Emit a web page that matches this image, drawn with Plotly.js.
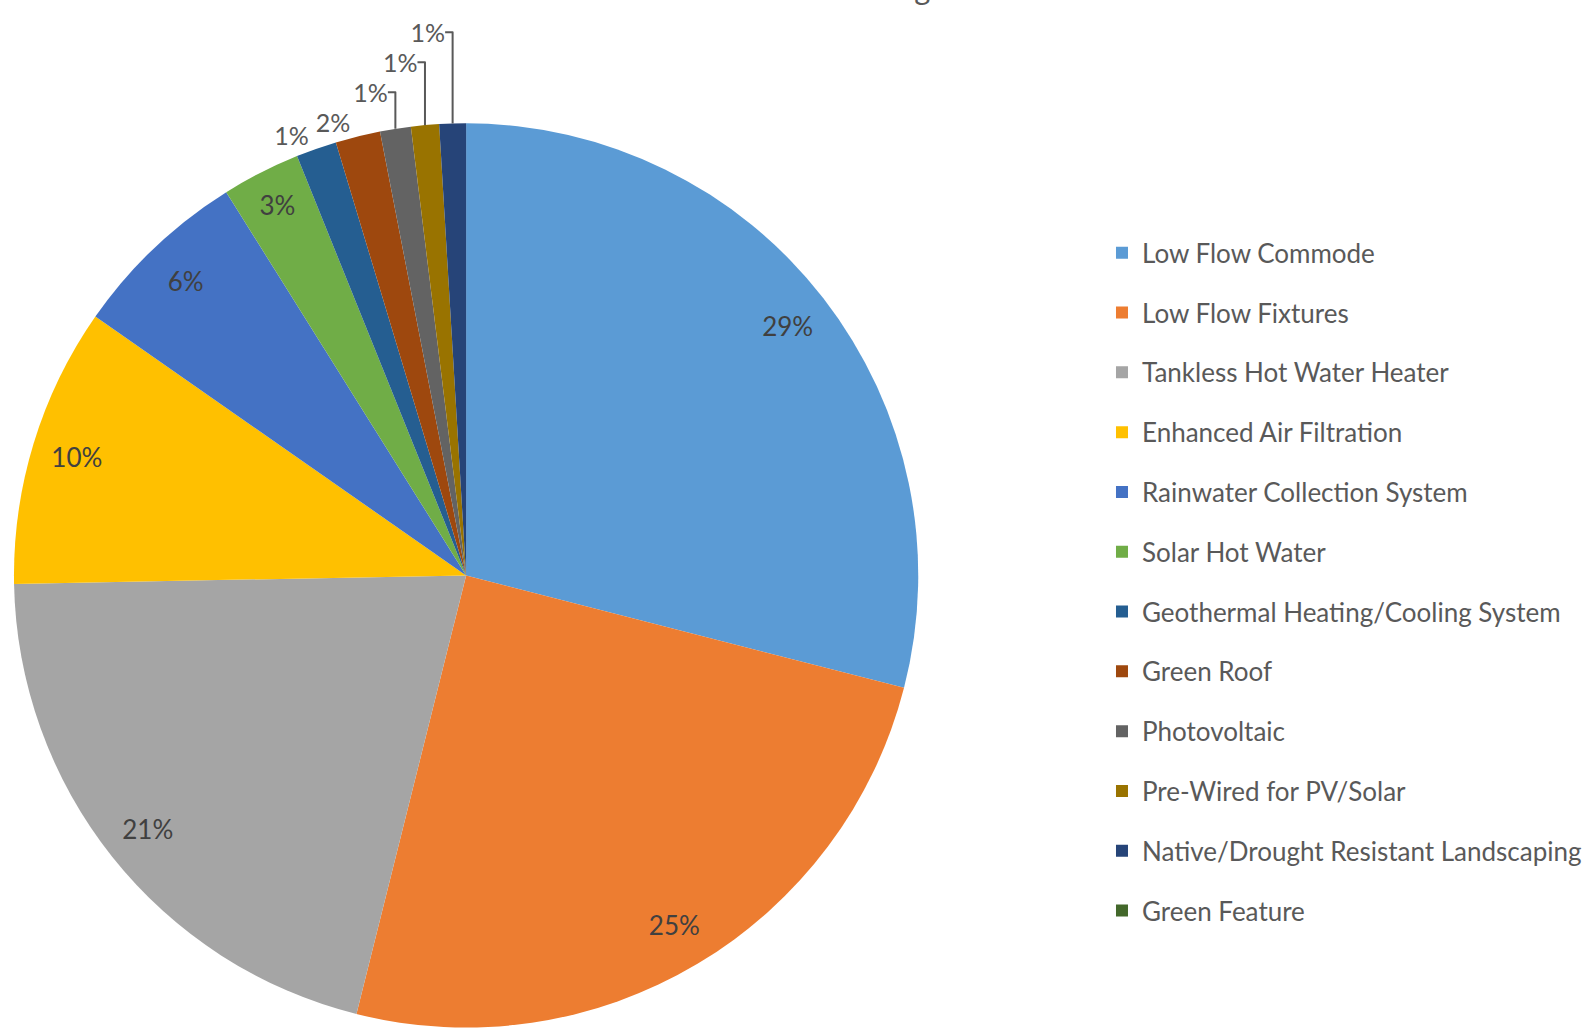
<!DOCTYPE html>
<html>
<head>
<meta charset="utf-8">
<script src="https://cdn.plot.ly/plotly-3.0.1.min.js"></script>
<style>
  html, body { margin: 0; padding: 0; background: #ffffff; }
  #chart { width: 1587px; height: 1033px; }
</style>
</head>
<body>
<div id="chart"></div>
<script>
// ---- data ----
const titleText = "Features Selected for Buildings";
const categories = [
  "Low Flow Commode",
  "Low Flow Fixtures",
  "Tankless Hot Water Heater",
  "Enhanced Air Filtration",
  "Rainwater Collection System",
  "Solar Hot Water",
  "Geothermal Heating/Cooling System",
  "Green Roof",
  "Photovoltaic",
  "Pre-Wired for PV/Solar",
  "Native/Drought Resistant Landscaping",
  "Green Feature"
];
const shares = [29.0, 24.9, 20.8, 10.0, 6.4, 2.8, 1.45, 1.6, 1.1, 1.0, 0.95, 0];
const sliceColors = [
  "#5B9BD5", "#ED7D31", "#A5A5A5", "#FFC000", "#4472C4", "#70AD47",
  "#255E91", "#9E480E", "#636363", "#997300", "#264478", "#43682B"
];
// where each slice's percentage sits, and which label layer carries it
const labelPlacement = ["inside", "inside", "inside", "inside", "inside", "inside",
  "outside", "outside", "outside", "outside", "outside", "none"];
const labelLayer = [1, 1, 1, 1, 1, 1, 1, 2, 2, 2, 2, 0];

// ---- chart ----
const insideColor = "#404040";
const outsideColor = "#595959";
const fontFamily = "Lato, 'Open Sans', sans-serif";
const pieDomain = { x: [0.00882, 0.5797], y: [0.00445, 0.8815] };

// coloured pie (no text)
const pie = {
  type: "pie",
  labels: categories,
  values: shares,
  sort: false,
  direction: "clockwise",
  rotation: 0,
  marker: { colors: sliceColors, line: { width: 0 } },
  textinfo: "none",
  domain: pieDomain,
  hoverinfo: "label+percent",
  showlegend: true
};

// same data as transparent rings that carry the percentage labels near the rim
function labelRing(layer) {
  return {
    type: "pie",
    labels: categories,
    values: shares,
    sort: false,
    direction: "clockwise",
    rotation: 0,
    hole: 0.8,
    marker: { colors: categories.map(() => "rgba(0,0,0,0)"), line: { width: 0 } },
    textposition: labelPlacement.map((p, i) => labelLayer[i] === layer ? p : "none"),
    texttemplate: shares.map((v, i) => (v > 0 && labelLayer[i] === layer) ? "%{percent:.0%}" : ""),
    insidetextorientation: "horizontal",
    insidetextfont: { family: fontFamily, size: 26, color: insideColor },
    outsidetextfont: { family: fontFamily, size: 25, color: outsideColor },
    domain: pieDomain,
    hoverinfo: "skip",
    showlegend: false
  };
}

// invisible helper entry so each slice is its own legend group (spacing via tracegroupgap)
const spacer = {
  type: "scatter",
  x: [0], y: [0],
  mode: "markers",
  marker: { color: "rgba(0,0,0,0)", size: 1 },
  name: " ",
  legendgroup: "spacer",
  showlegend: true,
  hoverinfo: "skip"
};

const layout = {
  width: 1587,
  height: 1033,
  margin: { l: 0, r: 0, t: 0, b: 0 },
  paper_bgcolor: "#ffffff",
  plot_bgcolor: "rgba(0,0,0,0)",
  font: { family: fontFamily, color: outsideColor },
  xaxis: { visible: false, fixedrange: true },
  yaxis: { visible: false, fixedrange: true },
  showlegend: true,
  legend: {
    x: 0.6957, xanchor: "left",
    y: 0.778, yanchor: "top",
    traceorder: "grouped",
    tracegroupgap: 23,
    font: { family: fontFamily, size: 26, color: outsideColor },
    bgcolor: "rgba(0,0,0,0)"
  },
  annotations: [{
    text: titleText,
    xref: "paper", yref: "paper",
    x: 0.4635, xanchor: "center",
    y: 1, yanchor: "bottom",
    yshift: -9,
    showarrow: false,
    font: { family: fontFamily, size: 31, color: "#595959" }
  }]
};

Plotly.newPlot("chart", [pie, labelRing(1), labelRing(2), spacer], layout,
  { displayModeBar: false, staticPlot: true });
</script>
</body>
</html>
